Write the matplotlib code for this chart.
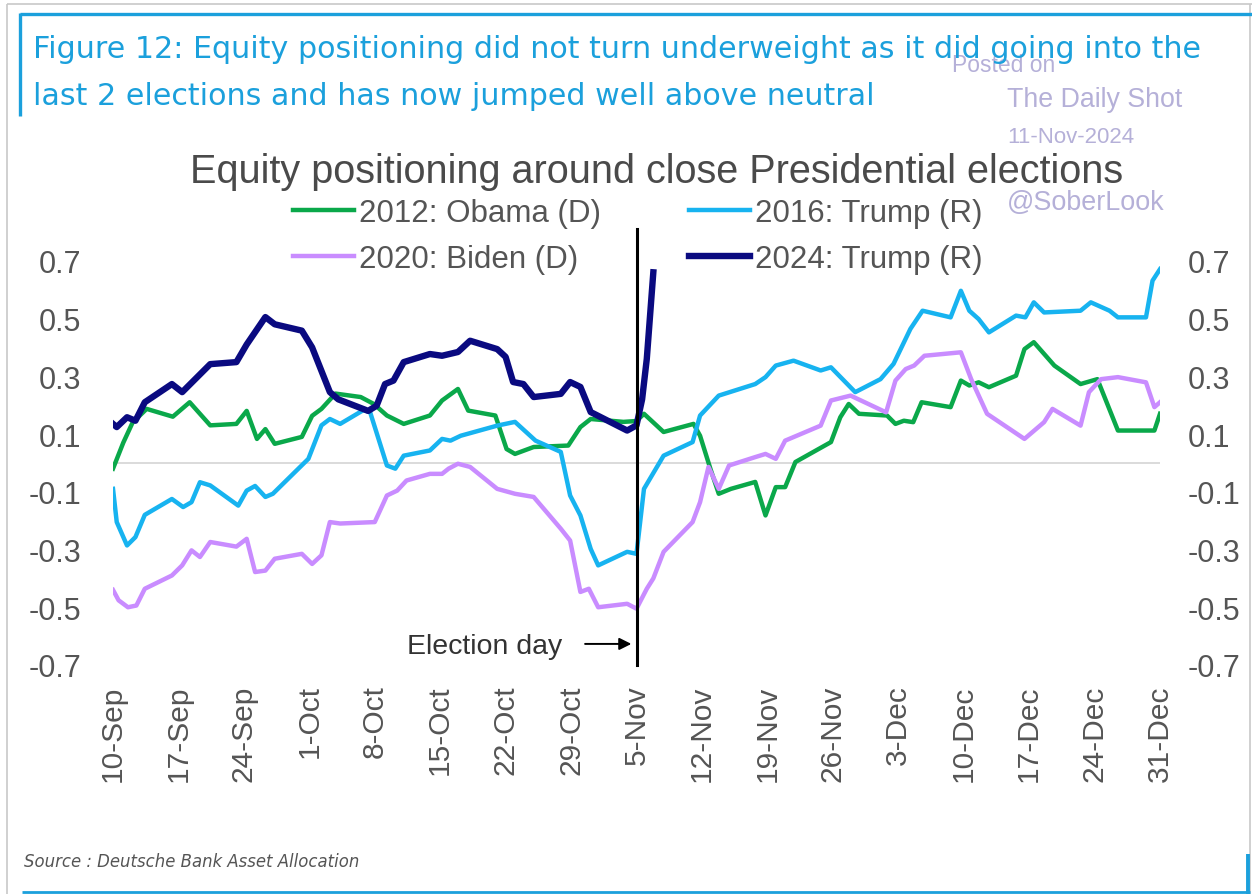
import matplotlib
matplotlib.use("Agg")
import matplotlib.pyplot as plt
import matplotlib.font_manager as fm
from matplotlib.lines import Line2D

# ---- data: days since 10-Sep, equity positioning (z-score) ----
days_2012 = [0, 1.1, 2.1, 3.6, 6.4, 8.2, 10.4, 13.2, 14.3, 15.4, 16.3, 17.3, 20.2, 21.3, 22.3,
             23.8, 26.5, 27.9, 29.3, 31.1, 33.9, 35.2, 36.9, 38.0, 40.9, 42.1, 43.0, 45.0, 48.7,
             50.0, 51.1, 54.6, 56.0, 56.8, 58.9, 62.1, 62.8, 63.9, 64.8, 66.1, 68.7, 69.8, 70.9,
             71.9, 73.0, 76.8, 77.8, 78.7, 79.8, 82.8, 83.7, 84.6, 85.6, 86.5, 89.6, 90.7, 91.6,
             92.6, 93.7, 96.6, 97.5, 98.5, 100.7, 103.5, 105.3, 107.5, 111.4, 112.0]
obama_2012 = [-0.02, 0.07, 0.14, 0.187, 0.16, 0.21, 0.13, 0.135, 0.18, 0.083, 0.117, 0.066, 0.09,
              0.163, 0.187, 0.24, 0.228, 0.204, 0.164, 0.135, 0.164, 0.216, 0.256, 0.181, 0.164,
              0.048, 0.031, 0.055, 0.06, 0.124, 0.152, 0.142, 0.145, 0.17, 0.107, 0.135, 0.094,
              -0.02, -0.107, -0.09, -0.066, -0.182, -0.084, -0.084, 0.003, 0.072, 0.158, 0.204,
              0.17, 0.164, 0.135, 0.146, 0.141, 0.21, 0.193, 0.285, 0.268, 0.279, 0.262, 0.302,
              0.394, 0.418, 0.337, 0.273, 0.29, 0.112, 0.112, 0.17]

days_2016 = [0, 0.4, 1.5, 2.4, 3.4, 6.3, 7.5, 8.4, 9.3, 10.4, 13.4, 14.3, 15.2, 16.3, 17.1, 20.9,
             22.3, 23.2, 24.3, 26.8, 27.5, 29.3, 30.2, 31.1, 33.9, 35.2, 36.1, 37.2, 41.1, 43.0,
             45.2, 47.9, 48.9, 50.0, 51.1, 51.9, 55.0, 56.0, 56.8, 58.9, 62.0, 62.8, 64.8, 68.7,
             69.8, 70.9, 72.8, 75.7, 76.8, 79.4, 82.1, 83.5, 85.3, 86.6, 89.6, 90.7, 91.6, 92.6,
             93.7, 96.6, 97.6, 98.5, 99.6, 103.5, 104.6, 106.6, 107.5, 110.5, 111.2, 112.0]
trump_2016 = [-0.09, -0.205, -0.286, -0.257, -0.18, -0.125, -0.153, -0.136, -0.067, -0.078,
              -0.148, -0.096, -0.08, -0.118, -0.107, 0.014, 0.13, 0.152, 0.135, 0.183, 0.176,
              -0.009, -0.02, 0.025, 0.043, 0.083, 0.077, 0.094, 0.129, 0.142, 0.077, 0.038,
              -0.113, -0.182, -0.298, -0.355, -0.308, -0.315, -0.09, 0.025, 0.072, 0.164, 0.233,
              0.273, 0.297, 0.337, 0.354, 0.32, 0.331, 0.245, 0.29, 0.343, 0.464, 0.527, 0.504,
              0.596, 0.527, 0.498, 0.452, 0.51, 0.504, 0.556, 0.521, 0.527, 0.556, 0.527, 0.504,
              0.504, 0.631, 0.671]

days_2020 = [0, 0.6, 1.6, 2.5, 3.4, 6.3, 7.4, 8.4, 9.3, 10.4, 13.2, 14.3, 15.2, 16.3, 17.3, 20.2,
             21.3, 22.3, 23.2, 24.3, 28.0, 29.3, 30.4, 31.4, 33.9, 35.2, 35.9, 36.9, 38.2, 41.1,
             43.0, 45.0, 47.9, 48.9, 50.0, 50.9, 51.9, 55.0, 56.0, 57.1, 57.8, 58.9, 62.0, 62.8,
             63.7, 64.8, 65.9, 68.7, 69.8, 70.9, 71.9, 75.7, 76.8, 78.9, 82.7, 83.7, 84.8, 85.7,
             86.8, 90.7, 91.8, 93.5, 97.5, 99.6, 100.5, 103.5, 104.4, 105.7, 107.5, 110.5, 111.4,
             112.0]
biden_2020 = [-0.44, -0.476, -0.5, -0.494, -0.436, -0.39, -0.355, -0.303, -0.326, -0.274, -0.29,
              -0.263, -0.378, -0.373, -0.332, -0.315, -0.35, -0.32, -0.205, -0.21, -0.205,
              -0.113, -0.096, -0.061, -0.038, -0.038, -0.02, -0.003, -0.014, -0.09, -0.107,
              -0.118, -0.228, -0.269, -0.447, -0.436, -0.5, -0.488, -0.505, -0.436, -0.4, -0.308,
              -0.205, -0.136, -0.014, -0.09, -0.009, 0.02, 0.031, 0.014, 0.077, 0.129, 0.216,
              0.233, 0.175, 0.285, 0.325, 0.337, 0.371, 0.383, 0.29, 0.17, 0.083, 0.141, 0.187,
              0.129, 0.245, 0.29, 0.297, 0.279, 0.193, 0.21]

days_2024 = [0, 0.4, 1.5, 2.4, 3.4, 6.3, 7.4, 10.4, 13.2, 14.3, 16.3, 17.3, 20.2, 21.3, 23.2,
             24.1, 27.3, 28.2, 29.1, 30.0, 31.1, 33.9, 35.2, 36.9, 38.2, 41.1, 42.0, 42.8, 43.9,
             45.0, 47.9, 48.9, 50.0, 51.1, 55.0, 56.0, 56.6, 57.1, 57.8]
trump_2024 = [0.135, 0.124, 0.158, 0.146, 0.21, 0.273, 0.245, 0.342, 0.349, 0.41, 0.505, 0.48,
              0.458, 0.4, 0.245, 0.22, 0.18, 0.198, 0.273, 0.285, 0.349, 0.377, 0.371, 0.384,
              0.423, 0.394, 0.367, 0.28, 0.273, 0.228, 0.239, 0.28, 0.263, 0.176, 0.112, 0.13,
              0.22, 0.36, 0.66]

tick_days = [0, 7, 14, 21, 28, 35, 42, 49, 56, 63, 70, 77, 84, 91, 98, 105, 112]
tick_labels = ["10-Sep", "17-Sep", "24-Sep", "1-Oct", "8-Oct", "15-Oct", "22-Oct", "29-Oct",
               "5-Nov", "12-Nov", "19-Nov", "26-Nov", "3-Dec", "10-Dec", "17-Dec", "24-Dec",
               "31-Dec"]
y_ticks = [0.7, 0.5, 0.3, 0.1, -0.1, -0.3, -0.5, -0.7]
election_day = 56

# ---- fonts: prefer a condensed sans for the header, if one is installed ----
SANS = "Liberation Sans"
NARROW = SANS
for f in fm.fontManager.ttflist:
    nm = f.name
    if "Mono" in nm or "Serif" in nm:
        continue
    if "Narrow" in nm or "Condensed" in nm or str(f.stretch) in ("condensed", "semi-condensed"):
        NARROW = nm
        break
plt.rcParams["font.family"] = [SANS, "DejaVu Sans"]

W, H = 1252, 895
fig = plt.figure(figsize=(W / 100, H / 100), dpi=100)
fig.patch.set_facecolor("white")
renderer = fig.canvas.get_renderer()


def fx(px):
    return px / W


def fy(py):
    return 1 - py / H


# plot area
y_lo, y_hi = -0.7, 0.81
ax = fig.add_axes([fx(113), fy(666), fx(1160) - fx(113), fy(230) - fy(666)])
ax.set_xlim(0, 112)
ax.set_ylim(y_lo, y_hi)
for s in ax.spines.values():
    s.set_visible(False)

ax.axhline(0, color="#d8d8d8", lw=1.3, zorder=1)

c12, c16, c20, c24 = "#0aa84a", "#17b3f0", "#c98cff", "#0a0a80"
l12, = ax.plot(days_2012, obama_2012, color=c12, lw=3.2, label="2012: Obama (D)",
               solid_joinstyle="round", zorder=3)
l16, = ax.plot(days_2016, trump_2016, color=c16, lw=3.2, label="2016: Trump (R)",
               solid_joinstyle="round", zorder=3)
l20, = ax.plot(days_2020, biden_2020, color=c20, lw=3.2, label="2020: Biden (D)",
               solid_joinstyle="round", zorder=3)
l24, = ax.plot(days_2024, trump_2024, color=c24, lw=4.6, label="2024: Trump (R)",
               solid_joinstyle="round", zorder=4)

ax.plot([election_day, election_day], [y_lo, y_hi], color="black", lw=2.2, zorder=5,
        clip_on=False)
ax.annotate("", xy=(election_day - 0.55, -0.627), xytext=(election_day - 5.5, -0.627),
            arrowprops=dict(arrowstyle="-|>", color="black", lw=1.4,
                            mutation_scale=18, shrinkA=0, shrinkB=0))
ax.text(election_day - 7.9, -0.635, "Election day", ha="right", va="center",
        fontsize=20.5, color="#333333")

ax.set_xticks(tick_days)
ax.set_xticklabels(tick_labels, rotation=90, fontsize=21.5, color="#555555")
ax.set_yticks(y_ticks)
ax.set_yticklabels([f"{v:.1f}" for v in y_ticks], fontsize=22, color="#555555")
ax.tick_params(axis="x", length=0, pad=14)
ax.tick_params(axis="y", length=0, pad=23)

ax2 = ax.twinx()
ax2.set_ylim(y_lo, y_hi)
for s in ax2.spines.values():
    s.set_visible(False)
ax2.set_yticks(y_ticks)
ax2.set_yticklabels([f"{v:.1f}" for v in y_ticks], fontsize=22, color="#555555")
ax2.tick_params(axis="y", length=0, pad=20)

leg = ax.legend([l12, l20, l16, l24],
                [l12.get_label(), l20.get_label(), l16.get_label(), l24.get_label()],
                ncol=2, frameon=False, fontsize=22.5, loc="upper left",
                bbox_to_anchor=(fx(293), fy(199)), bbox_transform=fig.transFigure,
                borderpad=0, borderaxespad=0, handlelength=1.95, handletextpad=0.17,
                columnspacing=2.8, labelspacing=0.5)
for t in leg.get_texts():
    t.set_color("#555555")

# chart title
fig.text(fx(657), fy(172), "Equity positioning around close Presidential elections",
         ha="center", va="center", fontsize=28.5, color="#4a4a4a")

# watermark
wm = "#b5b0d8"
fig.text(fx(952), fy(65), "Posted on", fontsize=16.5, color=wm, va="center", zorder=1)
fig.text(fx(1007), fy(100), "The Daily Shot", fontsize=19.3, color=wm, va="center")
fig.text(fx(1007), fy(138), "11-Nov-2024", fontsize=16, color=wm, va="center")
fig.text(fx(1007), fy(203), "@SoberLook", fontsize=19.4, color=wm, va="center")

# header, sized so the first line spans the header width
blue = "#1ba0dc"
h1 = fig.text(fx(33), fy(50),
              "Figure 12: Equity positioning did not turn underweight as it did going into the",
              fontsize=26, color=blue, va="center", family=[NARROW, SANS], zorder=5)
w1 = h1.get_window_extent(renderer).width
head_size = 26 * 1167 / w1
h1.set_fontsize(head_size)
fig.text(fx(33), fy(97), "last 2 elections and has now jumped well above neutral",
         fontsize=head_size, color=blue, va="center", family=[NARROW, SANS], zorder=5)

# footer
src = fig.text(fx(24), fy(862), "Source : Deutsche Bank Asset Allocation", fontsize=12,
               style="italic", color="#555555", va="center", family=[NARROW, SANS])
ws = src.get_window_extent(renderer).width
src.set_fontsize(12 * 334 / ws)


# page frame
def seg(x0, y0, x1, y1, color, lw):
    fig.add_artist(Line2D([fx(x0), fx(x1)], [fy(y0), fy(y1)], color=color, lw=lw,
                          transform=fig.transFigure, solid_capstyle="butt"))


seg(7, 5, 7, 895, "#c8c8c8", 1.2)
seg(7, 5, 1252, 5, "#c8c8c8", 1.2)
seg(1250, 5, 1250, 895, "#c8c8c8", 1.2)
seg(20, 15, 1252, 15, blue, 2.4)
seg(20, 14, 20, 117, blue, 2.4)
seg(22, 893, 1250, 893, blue, 2.0)
seg(1248, 855, 1248, 895, blue, 2.8)

fig.savefig("out.png", dpi=100, facecolor="white")
